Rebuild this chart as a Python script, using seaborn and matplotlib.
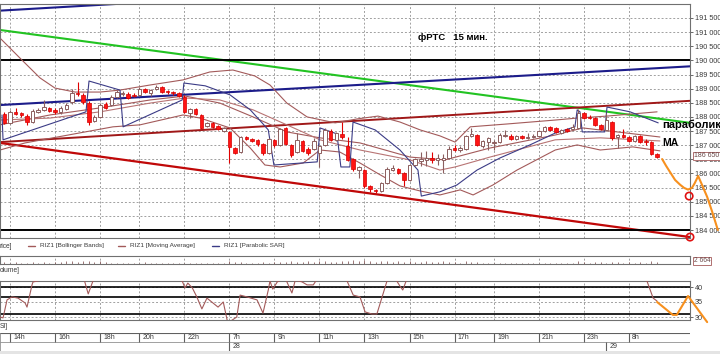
import matplotlib
matplotlib.use("Agg")
import matplotlib.pyplot as plt
from matplotlib.lines import Line2D
from matplotlib.patches import Rectangle
from matplotlib.ticker import FuncFormatter
import numpy as np
import seaborn as sns

sns.set_theme(style="white")
plt.rcParams['font.family'] = ['Liberation Sans', 'DejaVu Sans']
SMALL = ['Liberation Sans', 'DejaVu Sans']

# ---------------- data ----------------
c_open = [188110,187790,188180,188140,188030,187820,188180,188250,188320,188250,
          188180,188280,188530,188850,188780,188490,187860,188000,188460,188420,
          188710,188810,188810,188780,188780,188990,188850,188990,189060,188920,
          188880,188850,188710,188140,188280,188070,187680,187790,187680,187500,
          187470,186900,186760,187290,187220,187190,187040,186730,187190,187010,
          187610,187010,186760,187150,186870,186870,186730,187010,187500,187190,
          187400,186970,186510,186120,186120,185560,185420,185380,185660,186120,
          186160,186020,185770,186300,186440,186480,186550,186480,186480,186550,
          186900,186830,186870,187330,187360,186970,187110,187080,187110,187330,
          187330,187220,187330,187260,187290,187330,187500,187650,187610,187430,
          187570,187570,187610,188140,188000,187960,187720,187540,187820,187290,
          187360,187290,187150,187330,187150,187110,186690]
c_close = [187790,188180,188110,188070,187820,188210,188250,188350,188210,188180,
           188320,188420,188850,188810,188530,187820,188000,188420,188320,188710,
           188880,188850,188670,188740,188990,188880,188950,189060,188880,188880,
           188850,188740,188180,188280,188110,187610,187790,187650,187570,187610,
           186940,186730,187290,187220,187150,187040,186730,187220,187010,187570,
           187040,186650,187190,186800,186730,187150,186970,187540,187190,187430,
           187290,186480,186160,186230,185560,185450,185380,185660,186160,186190,
           186020,185770,186300,186510,186510,186550,186480,186550,186550,186870,
           186830,186900,187330,187400,187010,187150,187260,187110,187360,187360,
           187220,187330,187260,187290,187330,187500,187650,187540,187470,187540,
           187500,187650,188140,187960,187960,187720,187570,187890,187260,187360,
           187290,187150,187330,187110,187110,186690,186580]
c_high = [188180,188250,188320,188180,188110,188280,188320,188600,188350,188320,
          188390,188490,188990,189240,188850,188570,188070,188490,188530,188780,
          188950,188920,188880,188850,189060,189020,188990,189130,189100,188950,
          188920,188880,188780,188320,188320,188110,187820,187820,187720,187650,
          187500,186940,187330,187330,187260,187220,187080,187260,187220,187610,
          187650,187040,187430,187190,186940,187260,187010,187610,187570,187470,
          187820,187290,186550,186270,186160,185590,185450,185700,186230,186300,
          186190,186050,186340,186550,186760,186800,186760,186690,186690,186970,
          187010,186970,187360,187610,187400,187190,187290,187190,187430,187540,
          187400,187360,187360,187430,187400,187540,187680,187680,187650,187570,
          187610,187750,188280,188180,188070,188000,187750,188140,187860,187400,
          187570,187330,187360,187360,187220,187150,186730]
c_low = [187750,187750,188070,188000,187720,187790,188140,188210,188180,188110,
         188110,188250,188460,188740,188460,187720,187820,187960,188280,188390,
         188670,188740,188640,188710,188740,188850,188740,188950,188850,188810,
         188780,188710,188140,187960,188070,187570,187650,187610,187540,187470,
         186370,186690,186730,187190,187110,186970,186650,186690,186940,186970,
         187010,186580,186730,186760,186650,186830,186230,186970,187150,187150,
         187220,186440,186090,185840,185490,185350,185310,185350,185630,186090,
         185980,185560,185740,186270,186270,186270,186370,186300,186020,186510,
         186800,186760,186830,187290,186970,186900,186830,186830,187080,187290,
         187190,187190,187220,187220,187260,187290,187470,187500,187430,187400,
         187470,187540,187570,187930,187930,187680,187540,187500,187190,186900,
         187260,187110,187110,187080,187010,186650,186550]
volume = [2,1,2,1,1,2,1,2,1,2, 2,3,3,2,3,3,2,3,2,1, 1,1,1,1,1,2,1,1,1,1,
          1,1,1,1,1,1,1,1,1,1, 3,2,2,1,1,1,2,1,2,2, 2,3,2,2,3,2,3,3,2,2,
          3,3,4,3,4,3,2,3,3,2, 3,2,3,2,2,3,2,2,3,2, 2,1,3,2,2,1,1,1,1,1,
          1,1,1,1,1,1,1,1,1,1, 1,1,3,2,1,2,2,1,2,2, 1,2,1,2,1,3,2]

bb_up_x = [-0.78,3.13,6.33,9.0,12.55,17.0,20.55,25.9,31.75,36.5,40.6,44.5,47.2,50.2,53.8,58.8,62.7,66.4,70.3,73.9,77.4,80.1,82.8,89.3,97.9,101.8,107.1,116.0]
bb_up_y = [190790,190010,189380,189020,188880,188880,188950,189130,189310,189590,189660,189450,189130,188490,188000,187790,187930,188030,187820,187540,187330,187110,187650,187750,187890,187960,188030,188180]
bb_mid_x = [-0.78,8.11,17.0,25.9,32.1,38.3,44.2,50.2,56.1,63.2,72.1,78.3,86.3,97.9,102.8,108.9,116.5]
bb_mid_y = [187720,188070,188320,188600,188740,188490,188000,187470,187260,187080,186580,186480,186900,187360,187610,187470,187290]
bb_lo_x = [-0.78,3.67,19.3,24.1,31.75,34.8,40.1,43.7,46.3,49.0,53.1,56.1,59.6,63.2,66.8,70.3,73.9,77.4,81.0,83.3,86.8,91.1,97.9,101.8,105.9,111.7,116.5]
bb_lo_y = [186830,187080,187650,187720,188070,187960,187610,186900,186300,186230,186370,186830,186760,186370,185950,185560,185380,185240,185420,185240,185590,186120,186830,187010,186830,186940,186800]
ma_x = [-0.78,8.11,17.0,25.9,32.1,38.3,44.2,50.2,56.1,63.2,72.1,77.4,80.1,86.3,97.9,105.9,116.5]
ma_y = [187890,187960,188180,188490,188670,188600,188250,187720,187190,186830,186480,186120,186230,186580,187190,187260,187150]
sar_x = [-0.42,-0.24,14.5,15.04,20.55,21.1,31.6,31.9,35.7,40.1,43.7,45.8,46.9,47.9,55.6,56.1,59.1,59.8,61.4,61.96,65.9,70.3,73.5,74.1,77.4,80.4,84.0,88.1,93.4,97.9,101.4,101.8,102.3,102.7,106.7,107.1,111.2,116.2]
sar_y = [188070,187190,188180,189270,188950,187650,188600,189200,189100,188780,188250,187790,187540,186300,186410,187610,187400,186230,186230,187820,187540,186830,186120,185200,185350,185590,186120,186550,187010,187430,187650,188250,188180,187470,187470,188350,188180,187790]

rsi_x = [-0.78,-0.24,0.47,1.36,2.42,3.67,4.02,4.91,5.09,5.98,8.0,12.0,14.2,14.9,15.8,18.0,24.0,31.6,32.1,32.6,33.4,34.2,35.1,36.0,37.97,38.9,39.7,41.3,41.9,43.1,44.9,45.96,46.9,47.2,47.7,48.5,49.9,51.1,51.7,52.9,53.8,54.9,55.6,58.0,60.9,62.0,63.2,64.1,65.3,66.2,68.0,69.4,70.3,70.8,71.4,75.0,90.0,105.0,114.2,115.3,116.0]
rsi_y = [30.0,29.7,35.7,36.7,36.3,34.7,33.3,40.7,41.7,42.0,44.5,45.0,42.3,37.7,42.3,45.0,45.5,42.0,39.7,41.3,39.7,36.7,32.7,36.3,33.3,35.0,28.0,30.0,37.3,36.7,35.7,31.3,39.0,42.0,39.3,41.7,43.0,38.0,42.3,41.7,40.7,40.7,42.7,45.0,42.0,37.3,36.7,31.7,31.0,31.0,42.0,43.0,40.3,39.0,42.0,45.0,46.0,45.5,42.0,36.3,35.3]

# hand-drawn forecast (orange)
fc_x = [116.9,117.6,118.3,119.2,120.1,120.8,121.5,122.2,122.7,123.3,124.0,124.9,125.8,126.8]
fc_y = [186510,186270,186050,185770,185600,185490,185430,185490,185660,185910,185590,185170,184640,184000]
fr_x = [116.0,118.8,119.5,121.5,124.9]
fr_y = [35.0,30.7,30.7,37.0,28.3]

# drawn trend lines (endpoints)
navy_top_x, navy_top_y = [-0.78, 21.0], [191760, 192010]
green_x, green_y = [-0.78, 121.85], [191076, 187790]
navy_x, navy_y = [-0.78, 121.85], [188420, 189790]
red_up_x, red_up_y = [-0.78, 121.85], [187110, 188570]
red_dn_x, red_dn_y = [-0.78, 121.85], [187080, 183750]
h_levels = [190000, 184000]
circ_x, circ_y = [121.85, 121.7], [183750, 185200]
rsi_levels = [40, 36.7, 31]

grid_idx = [1, 9, 17, 24, 32, 40, 48, 56, 64, 72, 80, 87, 95, 103, 111]
grid_lab = ["14h","16h","18h","20h","22h","7h","9h","11h","13h","15h","17h","19h","21h","23h","8h"]
day_idx = [40, 107]
day_lab = ["28", "29"]

# ---------------- layout ----------------
W, H = 720, 354
XMIN, XMAX = -0.78, 121.85
fig = plt.figure(figsize=(7.2, 3.54), dpi=100)
fig.patch.set_facecolor('white')

def rect(x, y, w, h):
    return [x / W, 1 - (y + h) / H, w / W, h / H]

def fx(px):
    return px / W

def fy(py):
    return 1 - py / H

GRID = dict(color='#a0a0a0', linestyle=(0, (2, 2)), linewidth=0.7)
BROWN = '#a35a5a'
SARC = '#3b3b86'
TXT = '#3a3a3a'
TICK_FS = 5.2

def style_axes(a):
    a.set_xlim(XMIN, XMAX)
    a.set_xticks(grid_idx)
    a.tick_params(axis='x', length=0, labelbottom=False)
    a.grid(axis='x', **GRID)
    for s in a.spines.values():
        s.set_color('#707070')
        s.set_linewidth(0.8)
    a.set_facecolor('white')

# ---------- main price panel ----------
ax = fig.add_axes(rect(0, 4, 690, 234))
style_axes(ax)
ax.set_ylim(183717, 191995)
ax.set_yticks(np.arange(184000, 191501, 500))
ax.yaxis.tick_right()
ax.yaxis.set_major_formatter(FuncFormatter(lambda v, p: f"{int(v):,}".replace(",", " ")))
ax.tick_params(axis='y', right=True, length=2.5, width=0.6, color='#505050', pad=1.0,
               labelsize=TICK_FS, labelcolor=TXT)
ax.grid(axis='y', **GRID)

# drawn lines
ax.plot(navy_top_x, navy_top_y, color='#1c1c8a', lw=1.5, zorder=2)
ax.plot(green_x, green_y, color='#22c322', lw=1.5, zorder=2)
ax.plot(navy_x, navy_y, color='#1c1c8a', lw=1.5, zorder=2)
ax.plot(red_up_x, red_up_y, color='#a01818', lw=1.4, zorder=2)
ax.plot(red_dn_x, red_dn_y, color='#c00808', lw=1.6, zorder=2)
for lv in h_levels:
    ax.axhline(lv, color='black', lw=1.4, zorder=2)

# indicators
sns.lineplot(x=bb_up_x, y=bb_up_y, ax=ax, color=BROWN, lw=0.8, sort=False, estimator=None, zorder=2.5)
sns.lineplot(x=bb_mid_x, y=bb_mid_y, ax=ax, color=BROWN, lw=0.8, sort=False, estimator=None, zorder=2.5)
sns.lineplot(x=bb_lo_x, y=bb_lo_y, ax=ax, color=BROWN, lw=0.8, sort=False, estimator=None, zorder=2.5)
sns.lineplot(x=ma_x, y=ma_y, ax=ax, color='#b87474', lw=0.8, sort=False, estimator=None, zorder=2.5)
sns.lineplot(x=sar_x, y=sar_y, ax=ax, color=SARC, lw=0.8, sort=False, estimator=None, zorder=2.6)

# candles
o = np.array(c_open); c = np.array(c_close); hi = np.array(c_high); lo = np.array(c_low)
xi = np.arange(len(o))
up = c >= o
ax.vlines(xi[up], lo[up], hi[up], colors='#8c5f5f', lw=0.8, zorder=3)
ax.vlines(xi[~up], lo[~up], hi[~up], colors='#e00000', lw=0.8, zorder=3)
ax.bar(xi[up], np.maximum(c - o, 15)[up], bottom=o[up], width=0.62, facecolor='white',
       edgecolor='#8c5f5f', linewidth=0.7, zorder=4)
ax.bar(xi[~up], np.maximum(o - c, 15)[~up], bottom=c[~up], width=0.62, facecolor='#ff1414',
       edgecolor='#d40000', linewidth=0.5, zorder=4)

# forecast + circles
ax.plot(fc_x, fc_y, color='#f7901e', lw=1.5, clip_on=False, zorder=6)
ax.scatter(circ_x, circ_y, s=28, facecolors='none', edgecolors='#e01010', linewidths=1.2,
           clip_on=False, zorder=7)
ax.set_xlabel(''); ax.set_ylabel('')

# annotations
fig.text(fx(418), fy(38), "фРТС   15 мин.", fontsize=6.8, fontweight='bold', color='black', va='center')
fig.text(fx(662), fy(125), "параболик", fontsize=8, fontweight='bold', color='black', va='center')
fig.text(fx(662), fy(143), "МА", fontsize=7.5, fontweight='bold', color='black', va='center')
fig.text(fx(693.5), fy(156), "186 650", fontsize=5.0, color='#6a4a4a', va='center', family=SMALL,
         bbox=dict(boxstyle='square,pad=0.12', facecolor='white', edgecolor='#b07070', linewidth=0.7))

# legend row
ly = fy(246)
fig.text(0, ly, "rice]", fontsize=4.8, color=TXT, va='center', family=SMALL)
for x0, tx, col in [(28, "RIZ1 [Bollinger Bands]", BROWN),
                    (118, "RIZ1 [Moving Average]", BROWN),
                    (212, "RIZ1 [Parabolic SAR]", SARC)]:
    fig.add_artist(Line2D([fx(x0), fx(x0 + 7)], [ly, ly], color=col, lw=1.0, transform=fig.transFigure))
    fig.text(fx(x0 + 12), ly, tx, fontsize=4.6, color=TXT, va='center', family=SMALL)

# ---------- volume strip ----------
vax = fig.add_axes(rect(0, 256, 690, 8))
style_axes(vax)
vax.set_ylim(0, 8)
vax.set_yticks([])
vax.vlines(xi, 0, volume, colors='#8c5f5f', lw=0.6)
fig.text(fx(693.5), fy(261), "2 664", fontsize=4.8, color='#6a4a4a', va='center', family=SMALL,
         bbox=dict(boxstyle='square,pad=0.12', facecolor='white', edgecolor='#b07070', linewidth=0.7))
fig.text(0, fy(271), "olume]", fontsize=4.8, color=TXT, va='center', family=SMALL)

# ---------- RSI panel ----------
rax = fig.add_axes(rect(0, 281, 690, 39))
style_axes(rax)
rax.set_ylim(29, 42)
rax.set_yticks([30, 35, 40])
rax.yaxis.tick_right()
rax.tick_params(axis='y', right=True, length=2.5, width=0.6, color='#505050', pad=1.0,
                labelsize=TICK_FS, labelcolor=TXT)
rax.grid(axis='y', **GRID)
for lv in rsi_levels:
    rax.axhline(lv, color='black', lw=1.2, zorder=2)
sns.lineplot(x=rsi_x, y=rsi_y, ax=rax, color=BROWN, lw=0.8, sort=False, estimator=None, zorder=3)
rax.plot(fr_x, fr_y, color='#f7901e', lw=1.5, clip_on=False, zorder=6)
rax.set_xlabel(''); rax.set_ylabel('')
fig.text(0, fy(327), "SI]", fontsize=4.8, color=TXT, va='center', family=SMALL)

# ---------- time axis ----------
tax = fig.add_axes(rect(0, 333, 690, 18))
tax.set_xlim(XMIN, XMAX)
tax.set_ylim(0, 2)
tax.axis('off')
tax.axhline(2, color='#606060', lw=0.8)
tax.axhline(1, color='#909090', lw=0.6)
tax.axhline(0, color='#909090', lw=0.6)
tax.vlines(grid_idx, 1, 2, color='#606060', lw=0.8)
tax.vlines(day_idx, 0, 1, color='#606060', lw=0.8)
tax.vlines([XMIN + 0.05], 0, 2, color='#909090', lw=0.6)
tax.vlines([XMAX - 0.05], 0, 2, color='#909090', lw=0.6)
for g, lab in zip(grid_idx, grid_lab):
    tax.text(g + 0.55, 1.5, lab, fontsize=5.0, color=TXT, va='center', ha='left', family=SMALL)
for g, lab in zip(day_idx, day_lab):
    tax.text(g + 0.55, 0.5, lab, fontsize=5.0, color=TXT, va='center', ha='left', family=SMALL)

fig.add_artist(Rectangle((0, 0), 1, 3 / H, transform=fig.transFigure, facecolor='#e4e4e4',
                         edgecolor='none'))

fig.savefig("out.png", dpi=100, facecolor='white')
